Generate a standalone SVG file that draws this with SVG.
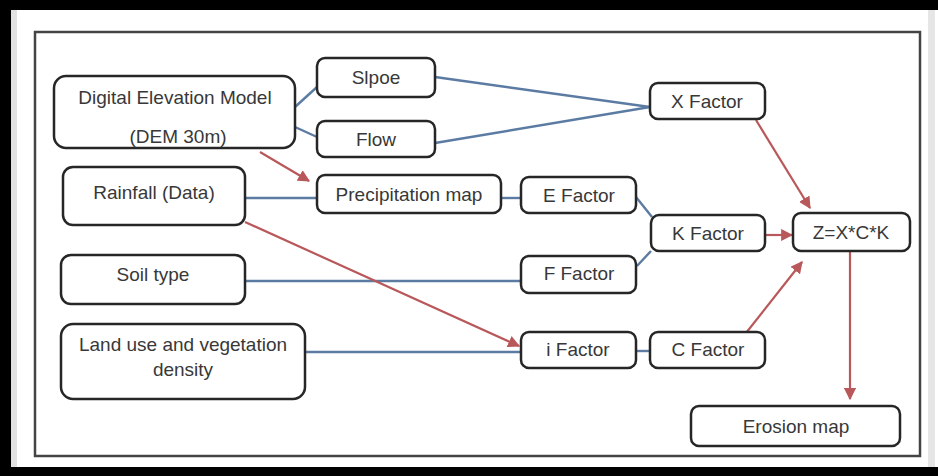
<svg xmlns="http://www.w3.org/2000/svg" width="938" height="476" viewBox="0 0 938 476">
  <style>
    .box { fill: #ffffff; stroke: #262626; stroke-width: 2.5; }
    .lbl { font-family: "Liberation Sans", Arial, sans-serif; font-size: 19px; fill: #383838; text-anchor: middle; }
    .blue { stroke: #5b7ba3; stroke-width: 2.4; fill: none; }
    .red { stroke: #b9585a; stroke-width: 2.2; fill: none; marker-end: url(#ah); }
  </style>
  <defs>
    <marker id="ah" viewBox="0 0 10 10" refX="9" refY="5" markerWidth="5.5" markerHeight="5.5" orient="auto" markerUnits="strokeWidth">
      <path d="M0,0 L10,5 L0,10 z" fill="#b9585a"/>
    </marker>
  </defs>

  <!-- frame -->
  <rect x="0" y="0" width="938" height="476" fill="#ffffff"/>
  <rect x="0" y="0" width="938" height="10" fill="#000"/>
  <rect x="0" y="0" width="11" height="476" fill="#000"/>
  <rect x="0" y="467" width="938" height="9" fill="#000"/>
  <rect x="11" y="10" width="6" height="457" fill="#e2e2e2"/>
  <rect x="928" y="10" width="7" height="457" fill="#e6e6e6"/>
  <rect x="35" y="32" width="885" height="424" fill="none" stroke="#444" stroke-width="2.5"/>

  <g id="connectors">
    <line class="blue" x1="295" y1="107" x2="317" y2="87"/>
    <line class="blue" x1="295" y1="127" x2="317" y2="137"/>
    <line class="blue" x1="435" y1="77" x2="650" y2="107"/>
    <line class="blue" x1="435" y1="143" x2="650" y2="107"/>
    <line class="blue" x1="245" y1="198" x2="317" y2="198"/>
    <line class="blue" x1="501" y1="198" x2="521" y2="198"/>
    <line class="blue" x1="636" y1="197" x2="652" y2="217"/>
    <line class="blue" x1="637" y1="266" x2="651" y2="251"/>
    <line class="blue" x1="245" y1="281" x2="521" y2="281"/>
    <line class="blue" x1="305" y1="352" x2="521" y2="352"/>
    <line class="blue" x1="636" y1="351" x2="650" y2="351"/>
    <line class="red" x1="260" y1="152" x2="309" y2="181"/>
    <line class="red" x1="245" y1="222" x2="519" y2="346"/>
    <line class="red" x1="756" y1="120" x2="810" y2="208"/>
    <line class="red" x1="765" y1="235" x2="792" y2="235"/>
    <line class="red" x1="746" y1="333" x2="802" y2="262"/>
    <line class="red" x1="850" y1="251" x2="850" y2="399"/>
  </g>

  <g id="dem"><rect class="box" x="54" y="76" width="241" height="72" rx="12"/>
    <text class="lbl" x="175" y="104">Digital Elevation Model</text>
    <text class="lbl" x="178" y="143">(DEM 30m)</text></g>
  <g id="slope"><rect class="box" x="317" y="58" width="118" height="39" rx="8"/>
    <text class="lbl" x="376" y="84">Slpoe</text></g>
  <g id="flow"><rect class="box" x="317" y="121" width="118" height="36" rx="8"/>
    <text class="lbl" x="376" y="146">Flow</text></g>
  <g id="precip"><rect class="box" x="317" y="175" width="184" height="38" rx="8"/>
    <text class="lbl" x="409" y="201">Precipitation map</text></g>
  <g id="rainfall"><rect class="box" x="63" y="167" width="182" height="58" rx="10"/>
    <text class="lbl" x="154" y="199">Rainfall (Data)</text></g>
  <g id="xfactor"><rect class="box" x="650" y="83" width="115" height="36" rx="8"/>
    <text class="lbl" x="707" y="108">X Factor</text></g>
  <g id="efactor"><rect class="box" x="521" y="177" width="115" height="36" rx="8"/>
    <text class="lbl" x="579" y="202">E Factor</text></g>
  <g id="kfactor"><rect class="box" x="651" y="215" width="114" height="36" rx="8"/>
    <text class="lbl" x="708" y="240">K Factor</text></g>
  <g id="z"><rect class="box" x="793" y="213" width="117" height="38" rx="8"/>
    <text class="lbl" x="851" y="239">Z=X*C*K</text></g>
  <g id="ffactor"><rect class="box" x="521" y="256" width="115" height="37" rx="8"/>
    <text class="lbl" x="579" y="280">F Factor</text></g>
  <g id="soil"><rect class="box" x="61" y="255" width="184" height="49" rx="10"/>
    <text class="lbl" x="153" y="281">Soil type</text></g>
  <g id="landuse"><rect class="box" x="61" y="324" width="244" height="75" rx="12"/>
    <text class="lbl" x="183" y="351">Land use and vegetation</text>
    <text class="lbl" x="183" y="376">density</text></g>
  <g id="ifactor"><rect class="box" x="521" y="332" width="115" height="36" rx="8"/>
    <text class="lbl" x="578" y="356">i Factor</text></g>
  <g id="cfactor"><rect class="box" x="650" y="332" width="115" height="36" rx="8"/>
    <text class="lbl" x="708" y="356">C Factor</text></g>
  <g id="erosion"><rect class="box" x="691" y="406" width="209" height="40" rx="8"/>
    <text class="lbl" x="796" y="433">Erosion map</text></g>
</svg>
